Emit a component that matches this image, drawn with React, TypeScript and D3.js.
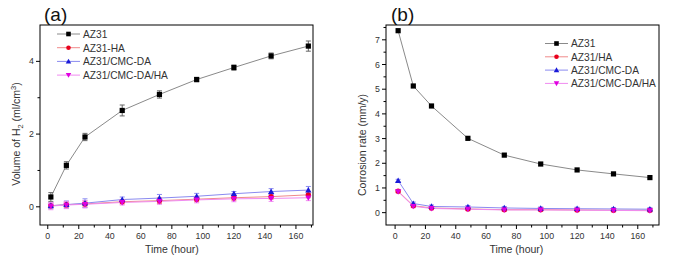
import React from "react";
import * as d3 from "d3";

const times = [2, 12, 24, 48, 72, 96, 120, 144, 168];

// Panel (a): Volume of H2
const volAZ31 = [0.27, 1.14, 1.92, 2.65, 3.09, 3.5, 3.83, 4.15, 4.42];
const volAZ31Err = [0.12, 0.1, 0.1, 0.15, 0.1, 0.06, 0.07, 0.08, 0.14];
const volHA = [0.03, 0.06, 0.08, 0.14, 0.17, 0.21, 0.25, 0.28, 0.33];
const volHAErr = [0.08, 0.08, 0.08, 0.06, 0.08, 0.07, 0.07, 0.07, 0.08];
const volCMC = [0.03, 0.06, 0.1, 0.2, 0.24, 0.29, 0.36, 0.42, 0.46];
const volCMCErr = [0.08, 0.1, 0.12, 0.07, 0.1, 0.08, 0.06, 0.08, 0.1];
const volCMCHA = [0.02, 0.05, 0.07, 0.12, 0.15, 0.19, 0.22, 0.23, 0.25];
const volCMCHAErr = [0.1, 0.1, 0.1, 0.07, 0.08, 0.08, 0.08, 0.08, 0.08];

// Panel (b): corrosion rate
const rateAZ31 = [7.37, 5.13, 4.32, 3.01, 2.33, 1.97, 1.73, 1.57, 1.42];
const rateHA = [0.87, 0.28, 0.19, 0.15, 0.12, 0.12, 0.11, 0.1, 0.1];
const rateCMC = [1.3, 0.37, 0.25, 0.23, 0.19, 0.17, 0.16, 0.15, 0.14];
const rateCMCHA = [0.85, 0.26, 0.17, 0.14, 0.11, 0.11, 0.1, 0.09, 0.08];
const rateSmallErr = [0.05, 0.06, 0.06, 0.06, 0.06, 0.06, 0.06, 0.06, 0.06];

const xTicks = [0, 20, 40, 60, 80, 100, 120, 140, 160];
const xMinor = [10, 30, 50, 70, 90, 110, 130, 150, 170];
const yTicksA = [0, 2, 4];
const yMinorA = [1, 3, 5];
const yTicksB = [0, 1, 2, 3, 4, 5, 6, 7];
const yMinorB = [0.5, 1.5, 2.5, 3.5, 4.5, 5.5, 6.5, 7.5];

const legendA = ["AZ31", "AZ31-HA", "AZ31/CMC-DA", "AZ31/CMC-DA/HA"];
const legendB = ["AZ31", "AZ31/HA", "AZ31/CMC-DA", "AZ31/CMC-DA/HA"];

const FONT = "'Liberation Sans', Arial, sans-serif";

const styles = [
  { marker: "square", fill: "#000000", line: "#8a8a8a", err: "#666666" },
  { marker: "circle", fill: "#e8001c", line: "#f08a8a", err: "#f07a8a" },
  { marker: "tri", fill: "#1a1ad8", line: "#8a8af0", err: "#8a8af0" },
  { marker: "tridown", fill: "#e000e0", line: "#f08af0", err: "#f08af0" },
];

function Marker({ type, x, y, fill, s = 2.6 }: any) {
  if (type === "square") return <rect x={x - s} y={y - s} width={2 * s} height={2 * s} fill={fill} />;
  if (type === "circle") return <circle cx={x} cy={y} r={s} fill={fill} />;
  if (type === "tri")
    return <path d={`M${x},${y - s * 1.2}L${x + s * 1.2},${y + s * 0.9}L${x - s * 1.2},${y + s * 0.9}Z`} fill={fill} />;
  return <path d={`M${x},${y + s * 1.2}L${x + s * 1.2},${y - s * 0.9}L${x - s * 1.2},${y - s * 0.9}Z`} fill={fill} />;
}

function Panel({ x0, x1, xDom, yDom, yTicks, yMinor, series, errs, legend, legendPos, yLabel, yLabelCenter, title, titleX }: any) {
  const top = 25, bottom = 225;
  const x = d3.scaleLinear().domain(xDom).range([x0, x1]);
  const y = d3.scaleLinear().domain(yDom).range([bottom, top]);
  const line = d3.line<number>().x((_, i) => x(times[i])).y((d) => y(d));
  const xMid = (x(0) + x(160)) / 2;
  return (
    <g fontFamily={FONT}>
      <text x={titleX} y={21} fontSize={19} fill="#111">{title}</text>
      <rect x={x0} y={top} width={x1 - x0} height={bottom - top} fill="none" stroke="#000" strokeWidth={1} />
      {xTicks.map((t) => (
        <g key={"xt" + t}>
          <line x1={x(t)} x2={x(t)} y1={bottom} y2={bottom + 4} stroke="#000" />
          <text x={x(t)} y={bottom + 14} fontSize={8.8} textAnchor="middle" fill="#333">{t}</text>
        </g>
      ))}
      {xMinor.filter((t) => x(t) < x1).map((t) => (
        <line key={"xm" + t} x1={x(t)} x2={x(t)} y1={bottom} y2={bottom + 2.5} stroke="#000" />
      ))}
      {yTicks.map((t: number) => (
        <g key={"yt" + t}>
          <line x1={x0} x2={x0 - 4} y1={y(t)} y2={y(t)} stroke="#000" />
          <text x={x0 - 6} y={y(t) + 3} fontSize={8.8} textAnchor="end" fill="#333">{t}</text>
        </g>
      ))}
      {yMinor.filter((t: number) => y(t) > top).map((t: number) => (
        <line key={"ym" + t} x1={x0} x2={x0 - 2.5} y1={y(t)} y2={y(t)} stroke="#000" />
      ))}
      <text x={xMid} y={253} fontSize={10.5} textAnchor="middle" fill="#333">Time (hour)</text>
      <text transform={`translate(${x0 - 20},${yLabelCenter}) rotate(-90)`} fontSize={10.5} textAnchor="middle" fill="#333">{yLabel}</text>
      {series.map((vals: number[], si: number) => (
        <path key={"l" + si} d={line(vals) || ""} fill="none" stroke={styles[si].line} strokeWidth={1} />
      ))}
      {series.map((vals: number[], si: number) =>
        errs[si]
          ? vals.map((v, i) => {
              const e = errs[si][i];
              const cx = x(times[i]);
              return (
                <g key={"e" + si + "-" + i} stroke={styles[si].err} strokeWidth={1}>
                  <line x1={cx} x2={cx} y1={y(v - e)} y2={y(v + e)} />
                  <line x1={cx - 2.5} x2={cx + 2.5} y1={y(v - e)} y2={y(v - e)} />
                  <line x1={cx - 2.5} x2={cx + 2.5} y1={y(v + e)} y2={y(v + e)} />
                </g>
              );
            })
          : null
      )}
      {series.map((vals: number[], si: number) =>
        vals.map((v, i) => (
          <Marker key={"m" + si + "-" + i} type={styles[si].marker} x={x(times[i])} y={y(v)} fill={styles[si].fill} />
        ))
      )}
      {legend.map((name: string, i: number) => {
        const ly = legendPos.y + i * legendPos.dy;
        return (
          <g key={"lg" + i}>
            <line x1={legendPos.x} x2={legendPos.x + 23} y1={ly} y2={ly} stroke={styles[i].line} />
            <Marker type={styles[i].marker} x={legendPos.x + 11.5} y={ly} fill={styles[i].fill} s={2.3} />
            <text x={legendPos.x + 26} y={ly + 3.8} fontSize={10.2} fill="#333">{name}</text>
          </g>
        );
      })}
    </g>
  );
}

export default function App() {
  return (
    <svg width={673} height={261} style={{ display: "block", position: "absolute", left: 0, top: 0, background: "#fff" }}>
      <rect width={673} height={261} fill="#fff" />
      <Panel
        x0={40}
        x1={313}
        xDom={[-5, 171]}
        yDom={[-0.5, 5.0]}
        yTicks={yTicksA}
        yMinor={yMinorA}
        series={[volAZ31, volHA, volCMC, volCMCHA]}
        errs={[volAZ31Err, volHAErr, volCMCErr, volCMCHAErr]}
        legend={legendA}
        legendPos={{ x: 57, y: 34, dy: 13.7 }}
        yLabel={<tspan>Volume of H<tspan fontSize={7.5} dy={3}>2</tspan><tspan dy={-3}> (ml/cm</tspan><tspan fontSize={7.5} dy={-4}>3</tspan><tspan dy={4}>)</tspan></tspan>}
        yLabelCenter={134}
        title="(a)"
        titleX={44}
      />
      <Panel
        x0={386}
        x1={659}
        xDom={[-6, 174]}
        yDom={[-0.5, 7.6]}
        yTicks={yTicksB}
        yMinor={yMinorB}
        series={[rateAZ31, rateHA, rateCMC, rateCMCHA]}
        errs={[null, rateSmallErr, rateSmallErr, rateSmallErr]}
        legend={legendB}
        legendPos={{ x: 545, y: 43.5, dy: 13.3 }}
        yLabel="Corrosion rate (mm/y)"
        yLabelCenter={145}
        title="(b)"
        titleX={391}
      />
    </svg>
  );
}
